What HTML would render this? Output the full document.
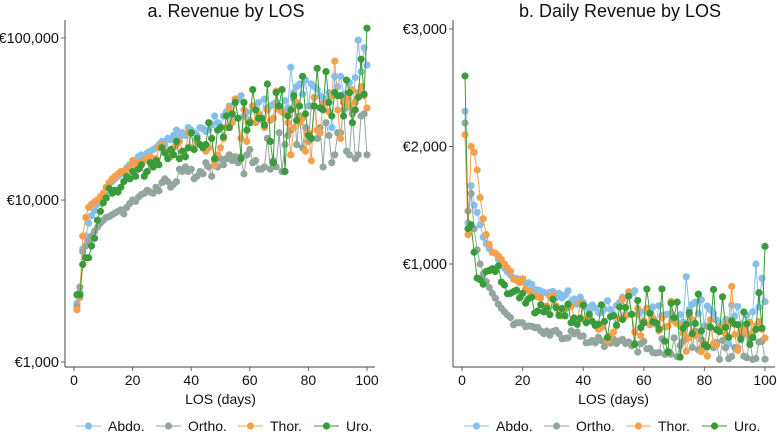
<!DOCTYPE html>
<html><head><meta charset="utf-8"><style>
body{margin:0;background:#fff;font-family:"Liberation Sans",Arial,sans-serif}
svg{display:block}
</style></head><body>
<svg id="c" width="777" height="435"></svg>
<script>
const days = Array.from({length:100},(_,i)=>i+1);
const seriesNames = ["Abdo.","Ortho.","Thor.","Uro."];
const abdo = [2300,2700,5000,6000,7200,8000,8600,9400,10200,11000,12000,12500,13000,13500,14000,14500,15000,15800,16500,17000,17500,18500,19000,18800,19500,20000,20500,21000,22000,23000,22000,24000,23500,25000,27000,24500,26000,25000,28000,27000,26000,25000,28000,27500,26500,27000,29000,33000,30000,28500,33000,35000,38000,31000,40000,42000,44000,33000,35000,30000,38000,36000,40000,31000,42000,37000,38000,39000,40000,37000,36000,41000,37000,66000,46000,50000,52000,45000,55000,38000,52000,50000,48000,44000,40000,42000,46000,28000,58000,50000,58000,45000,37000,53000,36000,57000,97000,62000,87000,68000];
const ortho = [2200,2900,4800,5200,5600,6000,6400,6800,7200,7500,7800,7900,8100,8300,8500,8700,8200,9000,9500,10000,9800,10400,10800,11000,11500,11200,11000,12000,11400,12800,13500,13000,12000,12500,13000,15500,15000,16000,15000,15500,13500,14000,15000,14500,17000,16000,14000,17500,16000,18000,16500,18000,19000,17500,18500,17000,18500,14500,19000,20500,17000,17500,15500,15500,16000,24000,15500,17500,16000,26000,15000,22000,25000,27000,42000,22000,33000,21000,28000,23000,38000,43000,24000,28000,16000,30000,25000,17000,19000,26000,26000,36000,20000,19000,34000,18000,19000,33000,34000,19000];
const thor = [2100,2500,6000,7800,9000,9400,9700,10000,10500,11000,12000,12800,13500,14000,14500,15000,14800,15500,16000,17500,16500,17000,17200,17500,18000,18500,16000,18000,21000,22000,20000,19000,18500,21000,22000,23000,20000,18500,26000,21000,20500,23000,22000,21000,20000,21000,24000,16500,19000,21000,24000,28000,37000,30000,42000,32000,24000,36000,23000,31000,38000,30000,34000,32000,28000,36000,31000,32000,47000,36000,35000,34000,30000,19000,28000,40000,30000,32000,20000,26000,17500,43000,27000,26000,39000,40000,35000,44000,72000,36000,24000,40000,42000,38000,48000,40000,46000,50000,44000,37000];
const uro = [2600,2600,4000,4400,4400,5200,5800,7500,8500,9600,10300,11800,11000,11500,11200,12000,13000,14000,13500,15000,14000,15500,16500,14000,15000,17000,16000,17500,16500,21000,19500,18000,20500,19000,23000,18000,20000,18500,21000,26000,20500,24000,22000,21000,22000,30000,24000,18000,27000,28000,24500,33000,28000,34000,40000,32000,18000,40000,27000,30000,48000,36000,32000,32000,29000,52000,23000,17000,46000,38000,48000,15000,33000,36000,44000,31000,38000,58000,34000,25000,24000,38000,65000,37000,36000,62000,40000,33000,46000,44000,44000,33000,55000,46000,30000,36000,43000,74000,45000,115000];
const xTicks = [0,20,40,60,80,100];
const yTicksA = [1000,10000,100000];
const yTickLabelsA = ["€1,000","€10,000","€100,000"];
const yTicksB = [1000,2000,3000];
const yTickLabelsB = ["€1,000","€2,000","€3,000"];
const colors = ["#86bfe9","#93a69d","#f6a04d","#3a9b3a"];
const seriesData = [abdo, ortho, thor, uro];

const NS="http://www.w3.org/2000/svg";
const svg=document.getElementById('c');
function mk(tag,attrs,parent){const e=document.createElementNS(NS,tag);for(const k in attrs)e.setAttribute(k,attrs[k]);(parent||svg).appendChild(e);return e;}

function panel(p){
  const g=mk('g',{});
  
  
  const xs=v=>p.x0+(v/100)*(p.x1-p.x0);
  const t=mk('text',{x:(p.axX+p.axR)/2+6,y:17,'text-anchor':'middle','font-size':'18',fill:'#111'},g);
  t.textContent=p.title;
  
  
  const ya=mk('line',{x1:p.axX,y1:p.axTop,x2:p.axX,y2:p.axB,stroke:'#666','stroke-width':1.2},g);
  
  
  const xa=mk('line',{x1:p.axX,y1:p.axB,x2:p.axR,y2:p.axB,stroke:'#666','stroke-width':1.2},g);
  
  
  p.yTicks.forEach((v,i)=>{
    const y=p.ys(v);
    mk('line',{x1:p.axX-4,y1:y,x2:p.axX,y2:y,stroke:'#666'},g);
    const l=mk('text',{x:p.axX-6,y:y+5,'text-anchor':'end','font-size':'14.5',fill:'#111'},g);
    l.textContent=p.yLabels[i];
    
    
  });
  xTicks.forEach(v=>{
    const x=xs(v);
    mk('line',{x1:x,y1:p.axB,x2:x,y2:p.axB+4,stroke:'#666'},g);
    const l=mk('text',{x:x,y:p.axB+18,'text-anchor':'middle','font-size':'14',fill:'#111'},g);
    l.textContent=v;
    
    
  });
  const xt=mk('text',{x:(p.x0+p.x1)/2,y:404,'text-anchor':'middle','font-size':'14',fill:'#111'},g);
  xt.textContent='LOS (days)';
  
  
  seriesData.forEach((arr,si)=>{
    const sg=mk('g',{},g);
    
    
    const vals=arr.map((v,i)=>p.val(v,days[i]));
    const pts=vals.map((v,i)=>xs(days[i]).toFixed(1)+','+p.ys(v).toFixed(1)).join(' ');
    mk('polyline',{points:pts,fill:'none',stroke:colors[si],'stroke-width':1},sg);
    vals.forEach((v,i)=>{
      const c=mk('circle',{cx:xs(days[i]),cy:p.ys(v),r:3.6,fill:colors[si]},sg);
      
      
    });
  });
  const lg=mk('g',{},g);
  
  
  const offs=[0,80,162,238];
  seriesNames.forEach((n,i)=>{
    const bx=p.legX+offs[i];
    const e=mk('g',{},lg);
    
    
    mk('line',{x1:bx,y1:426,x2:bx+25,y2:426,stroke:colors[i],'stroke-width':1},e);
    mk('circle',{cx:bx+12.5,cy:426,r:3.6,fill:colors[i]},e);
    const tx=mk('text',{x:bx+32,y:431,'font-size':'14',fill:'#111'},e);
    tx.textContent=n;
  });
}
const lA=Math.log10;
panel({name:'panel-revenue',title:'a. Revenue by LOS',axX:65,axR:375,axTop:20,axB:367,x0:74,x1:367,
  ys:v=>200-(lA(v)-4)*162,yTicks:yTicksA,yLabels:yTickLabelsA,val:(v,d)=>v,legX:76});
panel({name:'panel-daily-revenue',title:'b. Daily Revenue by LOS',axX:453,axR:775,axTop:20,axB:367,x0:462,x1:765,
  ys:v=>264-(v-1000)*0.1175,yTicks:yTicksB,yLabels:yTickLabelsB,val:(v,d)=>v/d,legX:464});
</script>
</body></html>
